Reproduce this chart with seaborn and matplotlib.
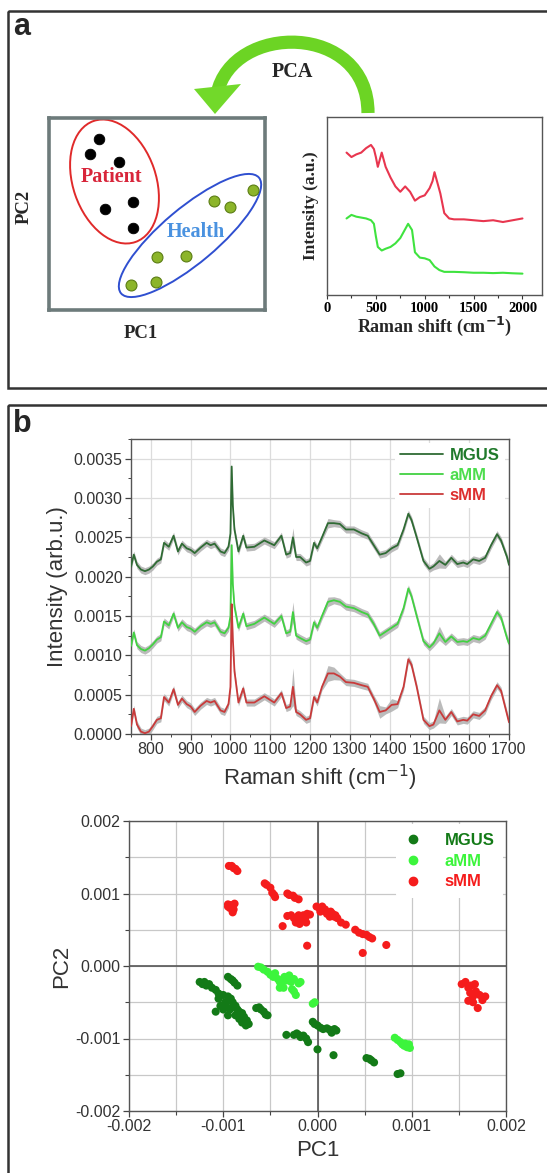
import numpy as np
import pandas as pd
import matplotlib
matplotlib.use("Agg")
import matplotlib.pyplot as plt
import seaborn as sns
from matplotlib.patches import Ellipse, Rectangle, PathPatch, Polygon
from matplotlib.path import Path
from matplotlib.lines import Line2D
from matplotlib.ticker import MultipleLocator, FormatStrFormatter

# ---------------- data ----------------
# panel a, schematic score plot (units: pixels inside the sketch box)
patient_x = [49.7, 41, 70, 56, 84.3, 84]
patient_y = [170.7, 156, 147.7, 101.3, 108.3, 82.3]
health_x = [203.6, 164.9, 181.3, 108, 136.6, 81.5, 107]
health_y = [120, 109.3, 103, 52.7, 53.7, 24.7, 28.3]

# panel a, sketch spectra (arbitrary units)
red_x = [200, 250, 300, 350, 400, 450, 480, 500, 520, 560, 600, 650, 700, 750, 800, 850, 900,
         950, 1000, 1050, 1080, 1100, 1130, 1160, 1200, 1250, 1300, 1400, 1500, 1600, 1700,
         1800, 1900, 2000]
red_y = [80, 77.5, 79, 80, 82.5, 84.3, 82, 77.5, 72, 80, 72, 66, 61, 58, 61, 58, 53,
         55, 56, 60, 64, 69, 63, 57, 46, 43, 42.5, 42.5, 42, 41.5, 42, 41, 42, 43]
grn_x = [200, 250, 300, 350, 400, 450, 480, 500, 520, 560, 600, 650, 700, 750, 780, 830, 870,
         900, 950, 1000, 1050, 1100, 1150, 1200, 1300, 1400, 1500, 1600, 1700, 1800, 1900, 2000]
grn_y = [43, 45, 44, 43.5, 43, 42, 40, 33, 27, 25, 26, 27, 29, 32, 35, 40, 36.5,
         24, 21, 20.6, 19.6, 16, 14, 13, 13, 12.8, 12.5, 12.5, 12.3, 12.5, 12.2, 12]

# panel b, mean spectra (intensity in 1e-4 arb.u.)
raman = [750, 757, 765, 775, 785, 795, 805, 815, 825, 833,
         845, 857, 868, 878, 890, 900, 910, 925, 940, 950,
         960, 975, 985, 995, 1000, 1003, 1006, 1010, 1020, 1032,
         1040, 1060, 1085, 1110, 1128, 1140, 1150, 1157, 1165, 1175,
         1190, 1200, 1210, 1218, 1230, 1245, 1260, 1275, 1290, 1310,
         1330, 1345, 1360, 1375, 1390, 1405, 1420, 1435, 1447, 1455,
         1468, 1485, 1500, 1510, 1525, 1540, 1555, 1570, 1585, 1595,
         1610, 1625, 1640, 1655, 1670, 1680, 1695, 1700]
mgus = [21.3, 22.8, 21.5, 20.9, 20.7, 20.9, 21.3, 21.9, 22.2, 24.3,
        23.8, 25.2, 23.2, 24.2, 23.6, 23.4, 23.0, 23.7, 24.3, 24.0,
        24.2, 23.2, 23.0, 23.8, 25.5, 34.0, 29.0, 26.0, 23.2, 25.2,
        23.7, 23.8, 24.6, 24.0, 25.2, 22.8, 23.0, 25.0, 22.5, 22.5,
        21.8, 22.0, 24.3, 23.6, 25.0, 26.8, 26.8, 26.7, 26.0, 26.0,
        25.5, 25.2, 24.0, 22.8, 23.0, 23.6, 24.0, 26.0, 28.0, 27.2,
        25.0, 22.0, 21.0, 21.3, 22.0, 21.5, 22.4, 21.6, 21.8, 21.6,
        22.2, 22.0, 22.4, 24.0, 25.4, 24.6, 22.5, 21.5]
amm = [11.2, 12.9, 11.3, 10.8, 10.6, 10.9, 11.4, 12.0, 12.3, 14.3,
       13.8, 15.3, 13.5, 14.2, 13.6, 13.4, 13.0, 13.7, 14.2, 14.0,
       14.2, 13.0, 12.8, 13.5, 15.0, 24.0, 19.0, 16.2, 13.5, 15.3,
       13.7, 14.0, 14.8, 14.0, 15.0, 12.8, 13.0, 15.5, 12.5, 12.2,
       11.8, 12.0, 14.2, 13.5, 15.0, 16.8, 17.0, 16.8, 16.2, 16.0,
       15.5, 15.2, 14.0, 12.5, 13.0, 13.5, 14.0, 16.0, 18.5, 17.5,
       15.0, 11.8, 11.0, 11.5, 12.8, 11.7, 12.4, 11.7, 11.8, 11.7,
       12.2, 12.0, 12.5, 14.0, 15.5, 14.8, 12.2, 11.5]
smm = [1.0, 3.2, 1.2, 0.3, 0.1, 0.3, 1.0, 1.8, 2.0, 4.7,
       4.0, 5.7, 3.7, 4.5, 3.8, 3.5, 2.8, 3.6, 4.2, 4.0,
       4.2, 3.0, 2.8, 3.8, 6.0, 16.5, 12.0, 8.0, 4.0, 5.8,
       4.0, 4.0, 4.8, 4.0, 5.2, 3.3, 3.5, 6.0, 2.8, 2.5,
       1.8, 2.0, 4.7, 4.0, 6.0, 7.7, 7.7, 7.3, 6.6, 6.5,
       6.2, 6.0, 4.5, 2.8, 3.0, 3.7, 3.8, 6.0, 9.5, 8.8,
       6.0, 1.8, 1.0, 1.2, 3.0, 1.8, 2.8, 1.6, 1.8, 1.7,
       2.5, 2.3, 3.0, 4.8, 6.2, 5.5, 2.5, 1.5]
band_default = 0.45
mgus_band_extra = {1157: 1.2, 1525: 0.9, 1245: 0.6}
amm_band_extra = {1157: 1.3, 1525: 0.9, 1245: 0.6}
smm_band_extra = {1157: 2.4, 1245: 1.0, 1260: 0.8, 1525: 1.6, 1375: 0.8, 1405: 0.8}

# panel b, PCA scores (1e-4 units)
mgus_pc1 = [-12.5, -12.2, -12.0, -11.8, -11.5, -11.2, -10.8, -10.5, -10.0, -9.5, -9.2, -9.0,
            -8.7, -8.5, -8.3, -8.0, -7.8, -7.5, -7.3, -7.6, -8.0, -8.3, -8.7, -9.7, -10.0,
            -10.3, -10.8, -9.5, -9.3, -9.0, -9.8, -10.5,
            -9.5, -9.2, -9.0, -8.8, -8.5,
            -6.5, -6.2, -6.0, -5.7, -5.5, -5.3,
            -3.3, -2.5, -2.2, -2.0, -1.8, -1.5, -1.2, -1.0,
            -0.5, -0.3, 0.0, 0.3, 0.6, 1.0, 1.3, 1.5, 1.8, 2.0,
            0.0, 1.7,
            5.2, 5.5, 5.7, 6.0,
            8.5, 8.8]
mgus_pc2 = [-2.2, -2.5, -2.2, -2.7, -2.5, -3.0, -3.3, -3.8, -4.0, -4.2, -4.5, -5.0,
            -5.5, -6.0, -6.3, -6.5, -7.0, -7.5, -8.0, -8.2, -7.8, -7.3, -6.8, -5.5, -6.0,
            -5.5, -6.3, -6.8, -6.0, -5.7, -5.0, -4.5,
            -1.5, -1.8, -2.0, -2.3, -2.7,
            -5.8, -5.7, -6.0, -6.3, -6.7, -6.8,
            -9.5, -9.5, -9.3, -9.5, -9.8, -9.6, -10.0, -10.5,
            -7.7, -8.0, -8.2, -8.5, -8.7, -8.6, -8.8, -9.2, -8.7, -8.9,
            -11.5, -12.3,
            -12.7, -12.8, -13.0, -13.3,
            -14.9, -14.8]
amm_pc1 = [-6.3, -6.0, -5.7, -5.3, -5.0, -4.7, -4.5, -4.2, -4.0, -3.8, -3.5, -3.3, -3.0,
           -2.8, -2.5, -2.0, -1.8, -2.7, -2.5, -2.3, -4.0, -3.6,
           -0.5, -0.3,
           8.2, 8.5, 8.8, 9.0, 9.3, 9.5, 9.8, 9.7, 9.2]
amm_pc2 = [-0.1, -0.2, -0.5, -0.8, -1.2, -1.5, -1.0, -1.8, -2.2, -2.7, -1.5, -2.0, -1.3,
           -2.2, -1.8, -2.4, -2.2, -3.2, -3.5, -4.0, -3.0, -3.0,
           -5.2, -5.0,
           -9.9, -10.2, -10.5, -10.8, -10.7, -11.2, -11.3, -10.8, -11.0]
smm_pc1 = [-9.4, -9.1, -8.9, -8.7, -8.5,
           -9.5, -9.2, -8.8, -9.3, -8.9, -9.0, -9.5,
           -5.6, -5.4, -5.0, -4.8, -4.6, -4.5,
           -3.2, -3.0, -2.6, -2.4, -2.0,
           -3.2, -2.8, -2.5, -2.2, -2.1, -1.9, -1.7, -1.5, -1.3, -1.1, -0.8, -2.0, -2.3, -1.6, -1.2,
           -3.7, -1.1,
           -0.1, 0.2, 0.5, 0.3, 1.0, 1.3, 1.6, 1.8, 2.1, 2.5, 0.8, 3.0, 1.4, 1.9,
           4.0, 4.4, 4.8, 5.2, 5.5, 5.8,
           4.8, 7.3,
           15.3, 15.7, 16.0, 16.3, 16.7, 16.2, 16.5, 16.8, 17.2, 17.5, 17.8, 16.5, 17.0, 16.0]
smm_pc2 = [13.8, 13.8, 13.5, 13.4, 13.1,
           8.5, 8.4, 8.6, 8.0, 7.8, 7.4, 8.2,
           11.4, 11.2, 10.8, 10.1, 9.8, 9.5,
           10.0, 9.8, 9.7, 9.4, 9.2,
           6.9, 7.0, 6.6, 6.3, 6.8, 5.8, 6.6, 7.0, 6.6, 7.2, 7.1, 7.0, 6.0, 6.2, 6.0,
           5.5, 2.8,
           8.2, 8.0, 8.2, 7.5, 7.2, 6.8, 7.2, 6.8, 6.6, 6.0, 7.8, 5.7, 7.5, 7.0,
           5.0, 4.6, 4.4, 4.3, 4.0, 3.8,
           1.8, 2.9,
           -2.5, -2.2, -3.0, -2.7, -2.5, -3.7, -4.2, -3.5, -4.0, -4.7, -4.2, -5.0, -5.8, -4.8]

# ---------------- styles ----------------
sns.set_theme(style="white")
plt.rcParams['font.family'] = ['Liberation Sans', 'DejaVu Sans']
plt.rcParams['axes.unicode_minus'] = False
SERIF = ['Liberation Serif', 'DejaVu Serif']

W, H = 547, 1173
fig = plt.figure(figsize=(W / 100, H / 100), dpi=100)
fig.patch.set_facecolor('white')


def rect(l, t, r, b):
    return [l / W, 1 - b / H, (r - l) / W, (b - t) / H]


# overlay (pixel coordinates, y down)
ov = fig.add_axes([0, 0, 1, 1], zorder=0)
ov.set_xlim(0, W)
ov.set_ylim(H, 0)
ov.axis('off')
ov.add_patch(Rectangle((8, 11), 580, 377, fill=False, lw=1.8, ec='#333333'))
ov.add_patch(Rectangle((8, 405), 580, 800, fill=False, lw=1.8, ec='#333333'))
ov.text(13, 27, 'a', fontsize=22, fontweight='bold', va='center', ha='left')
ov.text(13, 424, 'b', fontsize=22, fontweight='bold', va='center', ha='left')
arc = Path([(368, 113), (368, 22), (232, 22), (217, 94)],
           [Path.MOVETO, Path.CURVE4, Path.CURVE4, Path.CURVE4])
ov.add_patch(PathPatch(arc, fill=False, lw=9.5, ec='#6cd424', capstyle='butt'))
ov.add_patch(Polygon([(194, 89), (241, 84), (215, 114)], closed=True, fc='#72d92a', ec='none'))
ov.text(292, 72, 'PCA', family=SERIF, fontweight='bold', fontsize=14.5, ha='center', va='center')
ov.text(24, 207, 'PC2', family=SERIF, fontweight='bold', fontsize=13.5, rotation=90,
        ha='center', va='center')
ov.text(141, 334, 'PC1', family=SERIF, fontweight='bold', fontsize=13.5, ha='center', va='center')

# ---- panel a: schematic score plot ----
sa = fig.add_axes(rect(49, 118, 265, 310), zorder=1)
sa.set_xlim(0, 216)
sa.set_ylim(0, 192)
sa.set_xticks([])
sa.set_yticks([])
for s in sa.spines.values():
    s.set_color('#6d7b7b')
    s.set_linewidth(2.6)
sa.add_patch(Ellipse((65.5, 128.5), 128, 83, angle=109, fill=False, ec='#e02a2a', lw=1.4))
sa.add_patch(Ellipse((141, 74.5), 180, 55, angle=40, fill=False, ec='#2f4fd0', lw=1.4))
sns.scatterplot(x=patient_x, y=patient_y, color='black', s=58, edgecolor='black', ax=sa, zorder=3)
sns.scatterplot(x=health_x, y=health_y, color='#8cb52a', s=62, edgecolor='#5b7d14',
                linewidth=0.8, ax=sa, zorder=3)
sa.text(62.7, 133.3, 'Patient', family=SERIF, fontweight='bold', fontsize=14.5, color='#d8253a',
        ha='center', va='center')
sa.text(146.4, 78.3, 'Health', family=SERIF, fontweight='bold', fontsize=14.5, color='#4a92e0',
        ha='center', va='center')

# ---- panel a: sketch spectra ----
ma = fig.add_axes(rect(327, 117, 542, 295), zorder=1)
sns.lineplot(x=red_x, y=red_y, color='#e8364f', lw=1.5, ax=ma)
sns.lineplot(x=grn_x, y=grn_y, color='#3fe33f', lw=1.5, ax=ma)
ma.set_xlim(0, 2200)
ma.set_ylim(0, 100)
ma.set_yticks([])
ma.xaxis.set_minor_locator(MultipleLocator(250))
ma.set_xticks([0, 500, 1000, 1500, 2000])
ma.tick_params(axis='x', which='both', direction='out', bottom=True, length=3, width=0.8,
               colors='#333333', pad=2)
ma.tick_params(axis='x', which='minor', length=2)
for lab in ma.get_xticklabels():
    lab.set_family(SERIF)
    lab.set_fontweight('bold')
    lab.set_fontsize(10.5)
    lab.set_color('black')
for s in ma.spines.values():
    s.set_color('#555555')
    s.set_linewidth(1.0)
ma.set_xlabel('Raman shift (cm$^{\\mathbf{-1}}$)', family=SERIF, fontweight='bold', fontsize=13,
              labelpad=0)
ma.set_ylabel('Intensity (a.u.)', family=SERIF, fontweight='bold', fontsize=12.5, labelpad=6)

# ---- panel b: spectra ----
sp = fig.add_axes(rect(131, 439, 509, 734), zorder=1)
series = [('MGUS', mgus, mgus_band_extra, '#2f6b34', '#217a2c'),
          ('aMM', amm, amm_band_extra, '#42d142', '#4ddd4d'),
          ('sMM', smm, smm_band_extra, '#c93a3a', '#dd2e2e')]
xr = np.array(raman)
for name, vals, extra, lc, tc in series:
    y = np.array(vals) * 1e-4
    band = np.array([extra.get(x, band_default) for x in raman]) * 1e-4
    sp.fill_between(xr, y - band, y + band, color='#b0b0b0', lw=0, alpha=0.85, zorder=2)
    sns.lineplot(x=xr, y=y, color=lc, lw=1.3, ax=sp, label=name, zorder=3)
sp.set_xlim(750, 1700)
sp.set_ylim(0, 0.00375)
sp.xaxis.set_major_locator(MultipleLocator(100))
sp.xaxis.set_minor_locator(MultipleLocator(50))
sp.yaxis.set_major_locator(MultipleLocator(0.0005))
sp.yaxis.set_minor_locator(MultipleLocator(0.00025))
sp.yaxis.set_major_formatter(FormatStrFormatter('%.4f'))
sp.grid(True, which='major', color='#dcdcdc', lw=0.9)
sp.tick_params(which='both', direction='out', bottom=True, left=True, colors='#444444',
               labelcolor='#333333', labelsize=11.5, pad=2)
sp.tick_params(which='major', length=4, width=0.9)
sp.tick_params(which='minor', length=2.5, width=0.7)
for s in sp.spines.values():
    s.set_color('#555555')
    s.set_linewidth(1.0)
sp.set_xlabel('Raman shift (cm$^{-1}$)', fontsize=16, color='#333333', labelpad=4)
sp.set_ylabel('Intensity (arb.u.)', fontsize=16, color='#333333', labelpad=4)
h, l = sp.get_legend_handles_labels()
sp.legend(h, l, loc='upper right', bbox_to_anchor=(1.0, 1.0), borderaxespad=0.25,
          frameon=True, facecolor='white', edgecolor='none', framealpha=1,
          prop={'weight': 'bold', 'size': 12}, labelcolor=[s[4] for s in series],
          handlelength=2.6, handletextpad=0.4, labelspacing=0.3, borderpad=0.3)

# ---- panel b: PCA scores ----
sc = fig.add_axes(rect(129, 821, 506, 1111), zorder=1)
df = pd.DataFrame({
    'PC1': np.array(mgus_pc1 + amm_pc1 + smm_pc1) * 1e-4,
    'PC2': np.array(mgus_pc2 + amm_pc2 + smm_pc2) * 1e-4,
    'group': ['MGUS'] * len(mgus_pc1) + ['aMM'] * len(amm_pc1) + ['sMM'] * len(smm_pc1),
})
pal = {'MGUS': '#137a17', 'aMM': '#3cf53c', 'sMM': '#f51c1c'}
sc.grid(True, which='both', color='#c8c8c8', lw=0.9, zorder=0)
sc.axhline(0, color='#555555', lw=1.2, zorder=1)
sc.axvline(0, color='#555555', lw=1.2, zorder=1)
sns.scatterplot(data=df, x='PC1', y='PC2', hue='group', palette=pal, s=34, linewidth=0,
                ax=sc, legend=False, zorder=3)
sc.set_xlim(-0.002, 0.002)
sc.set_ylim(-0.002, 0.002)
for axis in (sc.xaxis, sc.yaxis):
    axis.set_major_locator(MultipleLocator(0.001))
    axis.set_minor_locator(MultipleLocator(0.0005))
    axis.set_major_formatter(FormatStrFormatter('%.3f'))
sc.set_axisbelow(True)
sc.tick_params(which='both', direction='out', bottom=True, left=True, colors='#444444',
               labelcolor='#333333', labelsize=11.5, pad=2)
sc.tick_params(which='major', length=4, width=0.9)
sc.tick_params(which='minor', length=3, width=0.8)
for s in sc.spines.values():
    s.set_color('#555555')
    s.set_linewidth(1.0)
sc.set_xlabel('PC1', fontsize=16, color='#333333', labelpad=4)
sc.set_ylabel('PC2', fontsize=16, color='#333333', labelpad=2)
handles = [Line2D([], [], ls='none', marker='o', ms=6, mfc=pal[g], mec=pal[g]) for g in pal]
sc.legend(handles, list(pal), loc='upper right', bbox_to_anchor=(1.0, 1.0), borderaxespad=0.2,
          frameon=True, facecolor='white', edgecolor='none', framealpha=1,
          prop={'weight': 'bold', 'size': 12}, labelcolor=list(pal.values()),
          handlelength=1.0, handletextpad=1.4, labelspacing=0.35, borderpad=0.5)

fig.savefig('out.png', dpi=100, facecolor='white')
